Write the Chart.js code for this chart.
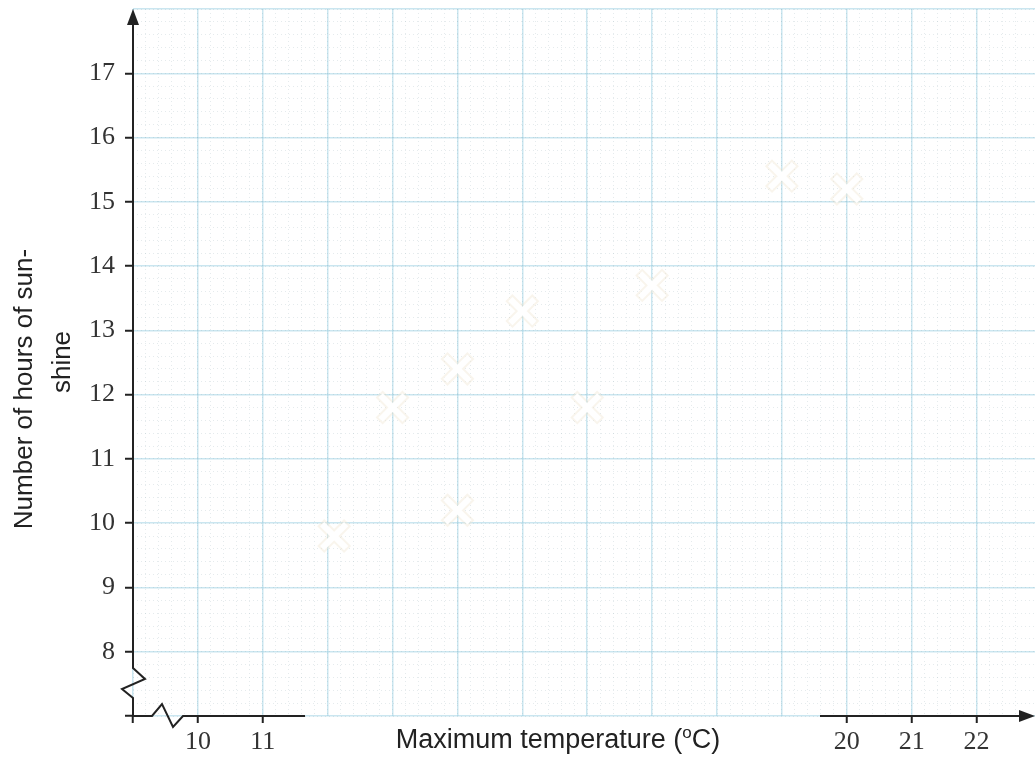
<!DOCTYPE html>
<html>
<head>
<meta charset="utf-8">
<script src="https://cdn.jsdelivr.net/npm/chart.js@4.4.1/dist/chart.umd.min.js"></script>
<style>
  html, body { margin: 0; padding: 0; background: #fff; }
  #wrap { width: 1035px; height: 760px; }
</style>
</head>
<body>
<div id="wrap"><canvas id="chart" width="1035" height="760"></canvas></div>
<script>
// readings (crosses)
const temperature = [12.1, 13, 14, 14, 15, 16, 17, 19, 20];
const sunshine = [9.8, 11.8, 12.4, 10.2, 13.3, 11.8, 13.7, 15.4, 15.2];

const xTickLabels = [10, 11, 20, 21, 22];
const yTickLabels = [8, 9, 10, 11, 12, 13, 14, 15, 16, 17];
const xTitle = ['Maximum temperature (', 'o', 'C)'];
const yTitle = ['Number of hours of sun-', 'shine'];

const X_MIN = 9, X_MAX = 22.9;
const Y_MIN = 7, Y_MAX = 18;

const majorGrid = 'rgba(150, 205, 225, 0.5)';
const minorGrid = 'rgba(150, 175, 185, 0.25)';
const ink = '#222';
const tickFont = {family: '"Liberation Serif", "Times New Roman", serif', size: 26};

// scales must not push the plot area around
function noPadding(s) {
    s.paddingLeft = 0;
    s.paddingRight = 0;
    s.paddingTop = 0;
    s.paddingBottom = 0;
}

// axes with arrows, breaks near the origin and the two titles
const paperAxes = {
    id: 'paperAxes',
    afterDraw(chart) {
        const {ctx, chartArea} = chart;
        const {left, right, top, bottom} = chartArea;
        ctx.save();
        ctx.strokeStyle = ink;
        ctx.fillStyle = ink;
        ctx.lineWidth = 2;

        ctx.beginPath();
        ctx.moveTo(left, top + 14);
        ctx.lineTo(left, bottom - 48);
        ctx.lineTo(left + 12, bottom - 37);
        ctx.lineTo(left - 11, bottom - 27);
        ctx.lineTo(left, bottom - 18);
        ctx.lineTo(left, bottom);
        ctx.stroke();

        ctx.beginPath();
        ctx.moveTo(left, top);
        ctx.lineTo(left - 6, top + 16);
        ctx.lineTo(left + 6, top + 16);
        ctx.closePath();
        ctx.fill();

        ctx.beginPath();
        ctx.moveTo(left, bottom);
        ctx.lineTo(left + 19, bottom);
        ctx.lineTo(left + 29, bottom - 12);
        ctx.lineTo(left + 40, bottom + 11);
        ctx.lineTo(left + 50, bottom);
        ctx.lineTo(305, bottom);
        ctx.stroke();

        ctx.beginPath();
        ctx.moveTo(820, bottom);
        ctx.lineTo(right - 14, bottom);
        ctx.stroke();

        ctx.beginPath();
        ctx.moveTo(right, bottom);
        ctx.lineTo(right - 16, bottom - 6);
        ctx.lineTo(right - 16, bottom + 6);
        ctx.closePath();
        ctx.fill();

        // x title with superscript o
        ctx.fillStyle = ink;
        ctx.textBaseline = 'alphabetic';
        ctx.textAlign = 'left';
        const big = '27px "Liberation Sans", Arial, sans-serif';
        const small = '17px "Liberation Sans", Arial, sans-serif';
        ctx.font = big;
        const w1 = ctx.measureText(xTitle[0]).width;
        const w3 = ctx.measureText(xTitle[2]).width;
        ctx.font = small;
        const w2 = ctx.measureText(xTitle[1]).width;
        let x = 558 - (w1 + w2 + w3) / 2;
        const base = 748;
        ctx.font = big;
        ctx.fillText(xTitle[0], x, base);
        x += w1;
        ctx.font = small;
        ctx.fillText(xTitle[1], x, base - 10);
        x += w2;
        ctx.font = big;
        ctx.fillText(xTitle[2], x, base);

        // y title, two rotated lines
        ctx.font = '26px "Liberation Sans", Arial, sans-serif';
        ctx.textAlign = 'center';
        const lines = [[32, 389], [70, 362]];
        yTitle.forEach((text, i) => {
            ctx.save();
            ctx.translate(lines[i][0], lines[i][1]);
            ctx.rotate(-Math.PI / 2);
            ctx.fillText(text, 0, 0);
            ctx.restore();
        });
        ctx.restore();
    }
};

const points = temperature.map((t, i) => ({x: t, y: sunshine[i]}));

const chart = new Chart(document.getElementById('chart'), {
    type: 'scatter',
    data: {
        datasets: [{
            label: 'Sunshine',
            data: points,
            order: 1,
            pointStyle: 'crossRot',
            pointRadius: 17,
            pointBorderWidth: 6,
            borderColor: '#ffffff',
            backgroundColor: '#ffffff'
        }, {
            label: 'halo',
            data: points,
            order: 2,
            pointStyle: 'crossRot',
            pointRadius: 19,
            pointBorderWidth: 10,
            borderColor: 'rgba(240, 230, 210, 0.4)',
            backgroundColor: 'rgba(240, 230, 210, 0.4)'
        }]
    },
    options: {
        responsive: false,
        animation: false,
        layout: {autoPadding: false, padding: {top: 9, right: 0, bottom: 0, left: 0}},
        plugins: {legend: {display: false}, tooltip: {enabled: false}},
        scales: {
            x: {
                type: 'linear',
                min: X_MIN,
                max: X_MAX,
                afterFit: (s) => { s.height = 44; noPadding(s); },
                ticks: {
                    stepSize: 1,
                    includeBounds: false,
                    autoSkip: false,
                    maxRotation: 0,
                    padding: 4,
                    color: '#333',
                    font: tickFont,
                    callback: (v) => xTickLabels.includes(v) ? String(v) : ''
                },
                grid: {
                    color: majorGrid,
                    lineWidth: 1.5,
                    tickLength: 7,
                    tickWidth: 2,
                    tickColor: (c) => (xTickLabels.includes(c.tick.value) || c.tick.value === X_MIN) ? ink : 'rgba(0,0,0,0)'
                },
                border: {display: false}
            },
            y: {
                type: 'linear',
                min: Y_MIN,
                max: Y_MAX,
                afterFit: (s) => { s.width = 133; noPadding(s); },
                ticks: {
                    stepSize: 1,
                    padding: 10,
                    color: '#333',
                    font: tickFont,
                    callback: (v) => yTickLabels.includes(v) ? String(v) : ''
                },
                grid: {
                    color: majorGrid,
                    lineWidth: 1.5,
                    tickLength: 8,
                    tickWidth: 2,
                    tickColor: (c) => (yTickLabels.includes(c.tick.value) || c.tick.value === Y_MIN) ? ink : 'rgba(0,0,0,0)'
                },
                border: {display: false}
            },
            xMinor: {
                type: 'linear',
                position: 'bottom',
                min: X_MIN,
                max: X_MAX,
                afterFit: (s) => { s.height = 0; noPadding(s); },
                ticks: {display: false, stepSize: 0.2},
                grid: {color: minorGrid, lineWidth: 1, drawTicks: false},
                border: {display: false, dash: [1, 3]}
            },
            yMinor: {
                type: 'linear',
                position: 'left',
                min: Y_MIN,
                max: Y_MAX,
                afterFit: (s) => { s.width = 0; noPadding(s); },
                ticks: {display: false, stepSize: 0.2},
                grid: {color: minorGrid, lineWidth: 1, drawTicks: false},
                border: {display: false, dash: [1, 3]}
            }
        }
    },
    plugins: [paperAxes]
});
</script>
</body>
</html>
